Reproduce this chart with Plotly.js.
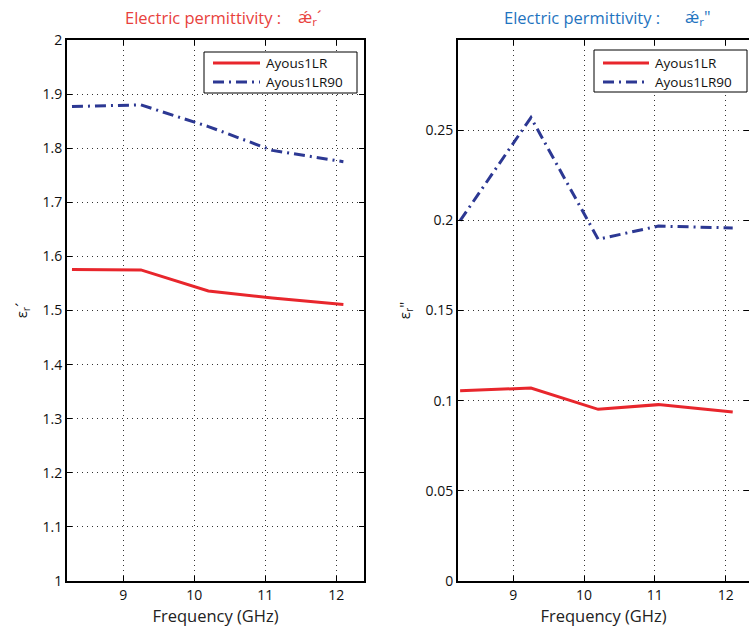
<!DOCTYPE html>
<html>
<head>
<meta charset="utf-8">
<script src="https://cdn.plot.ly/plotly-3.0.1.min.js"></script>
<style>html,body{margin:0;padding:0;background:#fff;overflow:hidden}</style>
</head>
<body>
<div id="chart" style="width:749px;height:632px"></div>
<script>
// Data
const freqReal = [8.28, 9.25, 10.2, 11.1, 12.1];
const realLR   = [1.576, 1.575, 1.536, 1.523, 1.511];
const realLR90 = [1.877, 1.880, 1.840, 1.796, 1.775];

const freqImag = [8.25, 9.25, 10.2, 11.05, 12.1];
const imagLR   = [0.1055, 0.107, 0.0952, 0.0978, 0.0937];
const imagLR90 = [0.1998, 0.257, 0.1895, 0.1968, 0.1958];

const seriesNames = ['Ayous1LR', 'Ayous1LR90'];
const xTicks = [9, 10, 11, 12];
const yTicksReal = [1, 1.1, 1.2, 1.3, 1.4, 1.5, 1.6, 1.7, 1.8, 1.9, 2];
const yTicksImag = [0, 0.05, 0.1, 0.15, 0.2, 0.25];

const red = '#e8262c';
const blue = '#2c3893';
const dashDot = '11px,5px,2px,5px';
const font = 'Open Sans, Noto Sans, sans-serif';

const traces = [
  {x: freqReal, y: realLR, name: seriesNames[0], mode: 'lines', line: {color: red, width: 3}, xaxis: 'x', yaxis: 'y', showlegend: false},
  {x: freqReal, y: realLR90, name: seriesNames[1], mode: 'lines', line: {color: blue, width: 3, dash: dashDot}, xaxis: 'x', yaxis: 'y', showlegend: false},
  {x: freqImag, y: imagLR, name: seriesNames[0], mode: 'lines', line: {color: red, width: 3}, xaxis: 'x2', yaxis: 'y2', showlegend: false},
  {x: freqImag, y: imagLR90, name: seriesNames[1], mode: 'lines', line: {color: blue, width: 3, dash: dashDot}, xaxis: 'x2', yaxis: 'y2', showlegend: false}
];

const axBase = {
  showline: true, linecolor: '#000', linewidth: 2, mirror: 'ticks',
  ticks: 'inside', ticklen: 5, tickcolor: '#000', tickwidth: 1,
  showgrid: true, gridcolor: '#333', griddash: '1px,4px', gridwidth: 1,
  zeroline: false, tickfont: {family: font, size: 14, color: '#111'}
};

const yDom = [(632 - 581) / 632, (632 - 40) / 632];

const layout = {
  width: 749, height: 632,
  margin: {l: 0, r: 0, t: 0, b: 0},
  paper_bgcolor: '#fff', plot_bgcolor: '#fff',
  font: {family: font, color: '#111'},
  xaxis: Object.assign({}, axBase, {
    domain: [67 / 749, 364 / 749], range: [8.21, 12.39], tickvals: xTicks, anchor: 'y',
    title: {text: 'Frequency (GHz)', font: {family: font, size: 16.5, color: '#222'}, standoff: 6}
  }),
  yaxis: Object.assign({}, axBase, {
    domain: yDom, range: [1, 2], tickvals: yTicksReal, anchor: 'x',
    tickformat: '.1~f',
    title: {text: 'ε<sub>r</sub>´', font: {family: font, size: 15, color: '#111'}, standoff: 11}
  }),
  xaxis2: Object.assign({}, axBase, {
    domain: [458 / 749, 1], range: [8.22, 12.33], tickvals: xTicks, anchor: 'y2',
    title: {text: 'Frequency (GHz)', font: {family: font, size: 16.5, color: '#222'}, standoff: 6}
  }),
  yaxis2: Object.assign({}, axBase, {
    domain: yDom, range: [0, 0.3], tickvals: yTicksImag, anchor: 'x2',
    title: {text: 'ε<sub>r</sub>"', font: {family: font, size: 15, color: '#111'}, standoff: 11}
  }),
  annotations: [
    {text: 'Electric permittivity :', xref: 'paper', yref: 'paper', x: 123 / 749, y: 1 - 17 / 632,
     showarrow: false, xanchor: 'left', yanchor: 'middle', font: {family: font, size: 16.5, color: '#e8413c'}},
    {text: 'ǽ<sub>r</sub>´', xref: 'paper', yref: 'paper', x: 296 / 749, y: 1 - 17 / 632,
     showarrow: false, xanchor: 'left', yanchor: 'middle', font: {family: font, size: 16.5, color: '#e8413c'}},
    {text: 'Electric permittivity :', xref: 'paper', yref: 'paper', x: 502 / 749, y: 1 - 17 / 632,
     showarrow: false, xanchor: 'left', yanchor: 'middle', font: {family: font, size: 16.5, color: '#1f74c0'}},
    {text: 'ǽ<sub>r</sub>"', xref: 'paper', yref: 'paper', x: 683 / 749, y: 1 - 17 / 632,
     showarrow: false, xanchor: 'left', yanchor: 'middle', font: {family: font, size: 16.5, color: '#1f74c0'}}
  ],
  shapes: []
};

function legendBox(x0, y0, x1, y1) {
  layout.shapes.push({type: 'rect', xref: 'paper', yref: 'paper',
    x0: x0 / 749, x1: x1 / 749, y0: 1 - y1 / 632, y1: 1 - y0 / 632,
    line: {color: '#000', width: 1}, fillcolor: '#fff', layer: 'above'});
}
function legendEntries(xLine0, xLine1, xText, yRow1, yRow2) {
  const rows = [{y: yRow1, color: red, dash: 'solid', name: seriesNames[0]},
                {y: yRow2, color: blue, dash: dashDot, name: seriesNames[1]}];
  rows.forEach(r => {
    layout.shapes.push({type: 'line', xref: 'paper', yref: 'paper',
      x0: xLine0 / 749, x1: xLine1 / 749, y0: 1 - r.y / 632, y1: 1 - r.y / 632,
      line: {color: r.color, width: 3, dash: r.dash}, layer: 'above'});
    layout.annotations.push({text: r.name, xref: 'paper', yref: 'paper',
      x: xText / 749, y: 1 - r.y / 632, xanchor: 'left', yanchor: 'middle', showarrow: false,
      font: {family: font, size: 13.5, color: '#111'}});
  });
}
legendBox(204, 52, 357, 93);
legendEntries(213, 260, 264, 63, 82);
legendBox(594, 50, 747, 92);
legendEntries(603, 649, 653, 63, 82);

Plotly.newPlot('chart', traces, layout, {displayModeBar: false, staticPlot: true});
</script>
</body>
</html>
